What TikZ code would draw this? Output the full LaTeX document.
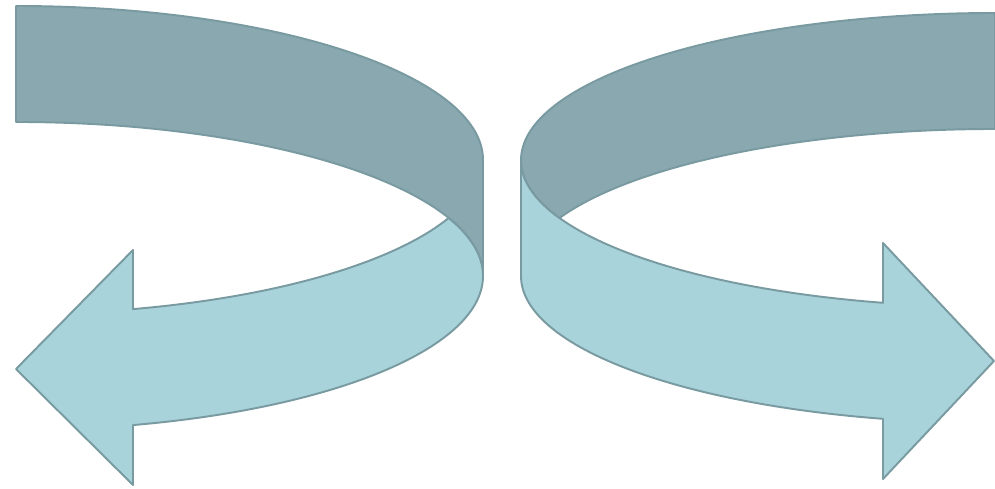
\documentclass[tikz,border=0pt]{standalone}
\usepackage{xcolor}
\usepackage{tikz}

\definecolor{bandDark}{RGB}{137,168,175}
\definecolor{bandLight}{RGB}{169,211,219}
\definecolor{bandEdge}{RGB}{120,154,160}

\begin{document}
\begin{tikzpicture}[
  x=0.02cm, y=0.02cm,
  band/.style={draw=bandEdge, line width=1.1pt, line join=round},
  darkband/.style={band, fill=bandDark},
  lightband/.style={band, fill=bandLight}
]
  \useasboundingbox (0,0) rectangle (995,489);

  % left arrow: top band, then the lower band with its head
  \draw[darkband] (16,483) arc[start angle=90, end angle=0, x radius=467, y radius=154]
    -- (483,213) arc[start angle=0, end angle=90, x radius=467, y radius=154] -- cycle;
  \draw[lightband] (483,213) arc[start angle=0, end angle=-75.49, x radius=467, y radius=154]
    -- (133,4) -- (16,120) -- (133,239) -- (133,179.9)
    arc[start angle=-75.49, end angle=-22.12, x radius=467, y radius=154]
    arc[start angle=22.12, end angle=0, x radius=467, y radius=154] -- cycle;

  % right arrow
  \draw[lightband] (521,329) -- (521,213)
    arc[start angle=180, end angle=256.33, x radius=474, y radius=147]
    -- (883,10) -- (994,128) -- (883,246) -- (883,186.2)
    arc[start angle=256.33, end angle=180, x radius=474, y radius=147] -- cycle;
  \draw[darkband] (995,476) arc[start angle=90, end angle=203.24, x radius=474, y radius=147]
    arc[start angle=156.76, end angle=90, x radius=474, y radius=147] -- cycle;
\end{tikzpicture}
\end{document}
